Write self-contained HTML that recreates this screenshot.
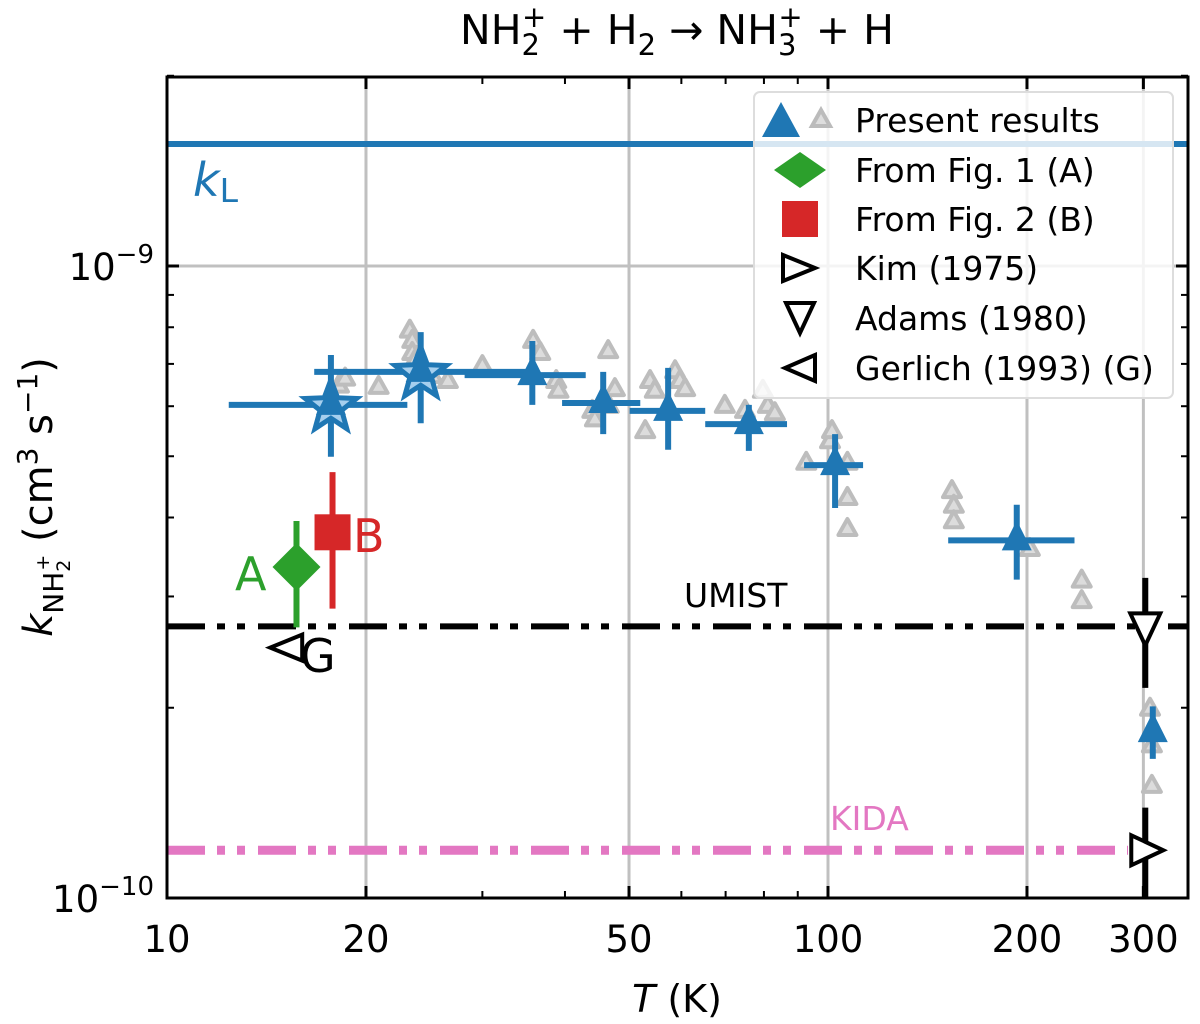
<!DOCTYPE html>
<html><head><meta charset="utf-8"><style>
html,body{margin:0;padding:0;background:#fff;}
svg{display:block;font-family:"DejaVu Sans","Liberation Sans",sans-serif;}
</style></head><body>
<svg id="chart" width="1200" height="1024" viewBox="0 0 1200 1024">
<defs><clipPath id="plotclip"><rect x="167" y="77" width="1021" height="821"/></clipPath></defs>
<g id="grid"></g>
<g id="lines"></g>
<g id="gray"></g>
<g id="marks" clip-path="url(#plotclip)"></g>
<g id="axes"></g>
<text x="677" y="44" text-anchor="middle" font-size="41">NH<tspan font-size="29" dy="11">2</tspan><tspan font-size="29" dx="-18" dy="-28">+</tspan><tspan dy="17"> + H</tspan><tspan font-size="29" dy="11">2</tspan><tspan dy="-11"> → NH</tspan><tspan font-size="29" dy="11">3</tspan><tspan font-size="29" dx="-18" dy="-28">+</tspan><tspan dy="17"> + H</tspan></text>
<text x="677" y="1012" text-anchor="middle" font-size="38"><tspan font-style="italic">T</tspan> (K)</text>
<text transform="translate(52,497) rotate(-90)" text-anchor="middle" font-size="40"><tspan font-style="italic">k</tspan><tspan font-size="28" dy="11">NH</tspan><tspan font-size="19" dy="7">2</tspan><tspan font-size="19" dx="-11" dy="-21">+</tspan><tspan dy="3">  (cm</tspan><tspan font-size="28" dy="-15">3</tspan><tspan dy="15"> s</tspan><tspan font-size="28" dy="-15">−1</tspan><tspan dy="15">)</tspan></text>
<text x="193" y="196" font-size="46" fill="#1f77b4"><tspan font-style="italic">k</tspan><tspan font-size="33" dy="6">L</tspan></text>
<text x="684" y="607" font-size="33" fill="#000">UMIST</text>
<text x="830" y="830" font-size="33" fill="#e377c2">KIDA</text>
<text x="235" y="590" font-size="46" fill="#2ca02c">A</text>
<text x="353" y="552" font-size="46" fill="#d62728">B</text>
<text x="300" y="672" font-size="46" fill="#000">G</text>
<g id="legend">
<rect x="754" y="92" width="419" height="306" rx="6" fill="rgba(255,255,255,0.82)" stroke="#ddd" stroke-width="2"/>
<g><polygon points="781,102 800,137 762,137" fill="#1f77b4"/><polygon points="821,110 830,126 812,126" fill="#ddd" stroke="#bbb" stroke-width="4"/><text x="855" y="132" font-size="33">Present results</text></g>
<g><polygon points="800,152 826,170 800,188 774,170" fill="#2ca02c"/><text x="855" y="182" font-size="33">From Fig. 1 (A)</text></g>
<g><rect x="782" y="201" width="36" height="36" fill="#d62728"/><text x="855" y="231" font-size="33">From Fig. 2 (B)</text></g>
<g><polygon points="783,255 815,268 783,281" fill="none" stroke="#000" stroke-width="4"/><text x="855" y="280" font-size="33">Kim (1975)</text></g>
<g><polygon points="786,303 814,303 800,333" fill="none" stroke="#000" stroke-width="4"/><text x="855" y="330" font-size="33">Adams (1980)</text></g>
<g><polygon points="815,355 785,368 815,381" fill="none" stroke="#000" stroke-width="4"/><text x="855" y="380" font-size="33">Gerlich (1993) (G)</text></g>
</g>
</svg>
<script>
// ---- data ----
const presentT = [17.7, 24.2, 35.7, 45.7, 57.3, 75.9, 102.5, 193, 310];
const presentK = [6.03e-10, 6.80e-10, 6.72e-10, 6.07e-10, 5.90e-10, 5.62e-10, 4.84e-10, 3.68e-10, 1.83e-10];
const presentTlo = [12.4, 16.7, 28.2, 39.6, 50.1, 65.2, 92, 152, 310];
const presentThi = [23.1, 35.4, 43.0, 52.0, 65.2, 86.7, 113, 236, 310];
const presentKlo = [4.99e-10, 5.64e-10, 6.03e-10, 5.42e-10, 5.12e-10, 5.10e-10, 4.14e-10, 3.19e-10, 1.66e-10];
const presentKhi = [7.23e-10, 7.86e-10, 7.61e-10, 6.80e-10, 6.90e-10, 6.03e-10, 5.42e-10, 4.19e-10, 2.01e-10];
const starIdx = [0, 1];
const grayT = [18.2,18.6,20.9,23.3,23.5,23.5,23.7,25.2,26.6,30.0,35.8,36.7,38.8,39.1,46.5,44.0,44.4,46.6,47.6,52.9,53.8,54.7,58.7,59.7,60.8,69.8,74.9,79.7,81.1,83.1,92.7,100.7,101.4,107,107,107,154,155,155,202,242,242,307,309,309];
const grayK = [6.49,6.66,6.46,7.93,7.64,7.31,7.10,6.72,6.60,6.97,7.64,7.31,6.60,6.37,7.36,5.92,5.74,6.03,6.41,5.50,6.60,6.37,6.84,6.60,6.41,6.03,5.92,6.37,6.03,5.87,4.90,5.30,5.50,4.90,4.31,3.85,4.42,4.19,3.96,3.58,3.19,2.96,2.00,1.75,1.51].map(v=>v*1e-10);
const fig1 = {T:15.7, k:3.34e-10, lo:2.68e-10, hi:3.95e-10};
const fig2 = {T:17.8, k:3.79e-10, lo:2.87e-10, hi:4.72e-10};
const adams = {T:302, k:2.68e-10, lo:2.15e-10, hi:3.21e-10};
const kim = {T:302, k:1.19e-10, lo:0.95e-10, hi:1.39e-10};
const gerlich = {T:15.2, k:2.49e-10};
const kL = 1.56e-9, umist = 2.69e-10, kida = 1.19e-10;
const xMajor = [10, 20, 50, 100, 200, 300];
const xMajorLabels = ["10","20","50","100","200","300"];
const xMinor = [30, 40, 60, 70, 80, 90];
const yMinor = [2,3,4,5,6,7,8,9,20].map(v=>v*1e-10);

// ---- axes ----
const L=167,R=1188,T0=77,B=898;
const sx = t => L + 661*(Math.log10(t)-1);
const sy = k => B - 632*(Math.log10(k)+10);
const NS='http://www.w3.org/2000/svg';
function mk(tag, attrs, parent){const e=document.createElementNS(NS,tag);for(const a in attrs)e.setAttribute(a,attrs[a]);parent.appendChild(e);return e;}
const gGrid=document.getElementById('grid'), gLines=document.getElementById('lines'), gGray=document.getElementById('gray'), gM=document.getElementById('marks'), gA=document.getElementById('axes');

xMajor.slice(1).forEach(t=>{const e=mk('line',{x1:sx(t),x2:sx(t),y1:T0,y2:B,stroke:'#c0c0c0','stroke-width':3},gGrid);

});
{const e=mk('line',{x1:L,x2:R,y1:sy(1e-9),y2:sy(1e-9),stroke:'#c0c0c0','stroke-width':3},gGrid);

}

{const e=mk('line',{x1:L,x2:R,y1:sy(kL),y2:sy(kL),stroke:'#1f77b4','stroke-width':6},gLines);

}
{const e=mk('line',{x1:L,x2:R,y1:sy(umist),y2:sy(umist),stroke:'#000','stroke-width':6,'stroke-dasharray':'38 12 8 12 8 13'},gLines);

}
{const e=mk('line',{x1:L,x2:1128,y1:sy(kida),y2:sy(kida),stroke:'#e377c2','stroke-width':9,'stroke-dasharray':'38 12 8 12 8 13'},gLines);

}

grayT.forEach((t,i)=>{const x=sx(t),y=sy(grayK[i]);
const e=mk('polygon',{points:`${x},${y-9} ${x+9},${y+7} ${x-9},${y+7}`,fill:'#dcdcdc',stroke:'#bdbdbd','stroke-width':4,'stroke-linejoin':'round'},gGray);

});

function star(cx,cy,r){let p=[];for(let i=0;i<10;i++){const a=-Math.PI/2+i*Math.PI/5;const rr=i%2?r*0.42:r;p.push((cx+rr*Math.cos(a)).toFixed(1)+','+(cy+rr*Math.sin(a)).toFixed(1));}return p.join(' ');}
presentT.forEach((t,i)=>{const x=sx(t),y=sy(presentK[i]);
const g=mk('g',{},gM);


mk('line',{x1:sx(presentTlo[i]),x2:sx(presentThi[i]),y1:y,y2:y,stroke:'#1f77b4','stroke-width':6},g);
mk('line',{x1:x,x2:x,y1:sy(presentKlo[i]),y2:sy(presentKhi[i]),stroke:'#1f77b4','stroke-width':6},g);
if(starIdx.includes(i)) mk('polygon',{points:star(x,y+2,27),fill:'#a6cfee',stroke:'#1f77b4','stroke-width':5,'stroke-linejoin':'miter'},g);
mk('polygon',{points:`${x},${y-20} ${x+15},${y+10} ${x-15},${y+10}`,fill:'#1f77b4'},g);});

function vbar(o,color,w,g){mk('line',{x1:sx(o.T),x2:sx(o.T),y1:sy(o.lo),y2:sy(o.hi),stroke:color,'stroke-width':w},g);}
{const g=mk('g',{},gM);
vbar(fig1,'#2ca02c',6,g);const x=sx(fig1.T),y=sy(fig1.k);
mk('polygon',{points:`${x},${y-24} ${x+24},${y} ${x},${y+24} ${x-24},${y}`,fill:'#2ca02c'},g);}
{const g=mk('g',{},gM);
vbar(fig2,'#d62728',6,g);const x=sx(fig2.T),y=sy(fig2.k);
mk('rect',{x:x-18,y:y-18,width:36,height:36,fill:'#d62728'},g);}
{const g=mk('g',{},gM);
vbar(adams,'#000',6,g);const x=sx(adams.T),y=sy(adams.k);
mk('polygon',{points:`${x-15},${y-14} ${x+15},${y-14} ${x},${y+18}`,fill:'#fff',stroke:'#000','stroke-width':4},g);}
{const g=mk('g',{},gM);
vbar(kim,'#000',6,g);const x=sx(kim.T),y=sy(kim.k);
mk('polygon',{points:`${x-14},${y-15} ${x+18},${y} ${x-14},${y+15}`,fill:'#fff',stroke:'#000','stroke-width':4},g);}
{const g=mk('g',{},gM);
const x=sx(gerlich.T),y=sy(gerlich.k);
mk('polygon',{points:`${x+15},${y-13} ${x-17},${y} ${x+15},${y+13}`,fill:'#fff',stroke:'#000','stroke-width':4},g);}

{const e=mk('rect',{x:L,y:T0,width:R-L,height:B-T0,fill:'none',stroke:'#000','stroke-width':3},gA);

}
xMajor.forEach((t,i)=>{const x=sx(t);
mk('line',{x1:x,x2:x,y1:B,y2:B-12,stroke:'#000','stroke-width':3},gA);
mk('line',{x1:x,x2:x,y1:T0,y2:T0+12,stroke:'#000','stroke-width':3},gA);
const e=mk('text',{x:x,y:B+54,'text-anchor':'middle','font-size':37},gA);e.textContent=xMajorLabels[i];

});
xMinor.forEach(t=>{const x=sx(t);
mk('line',{x1:x,x2:x,y1:B,y2:B-7,stroke:'#000','stroke-width':2},gA);
mk('line',{x1:x,x2:x,y1:T0,y2:T0+7,stroke:'#000','stroke-width':2},gA);});
[1e-9,1e-10].forEach(k=>{const y=sy(k);
mk('line',{x1:L,x2:L+12,y1:y,y2:y,stroke:'#000','stroke-width':3},gA);
mk('line',{x1:R,x2:R-12,y1:y,y2:y,stroke:'#000','stroke-width':3},gA);});
yMinor.forEach(k=>{const y=sy(k);
mk('line',{x1:L,x2:L+7,y1:y,y2:y,stroke:'#000','stroke-width':2},gA);
mk('line',{x1:R,x2:R-7,y1:y,y2:y,stroke:'#000','stroke-width':2},gA);});
[[1e-9,'−9'],[1e-10,'−10']].forEach(([k,ex])=>{const y=sy(k);
const e=mk('text',{x:154,y:y+14,'text-anchor':'end','font-size':37},gA);


const a=mk('tspan',{},e);a.textContent='10';const b=mk('tspan',{'font-size':26,dy:-17},e);b.textContent=ex;});
</script>
</body></html>
